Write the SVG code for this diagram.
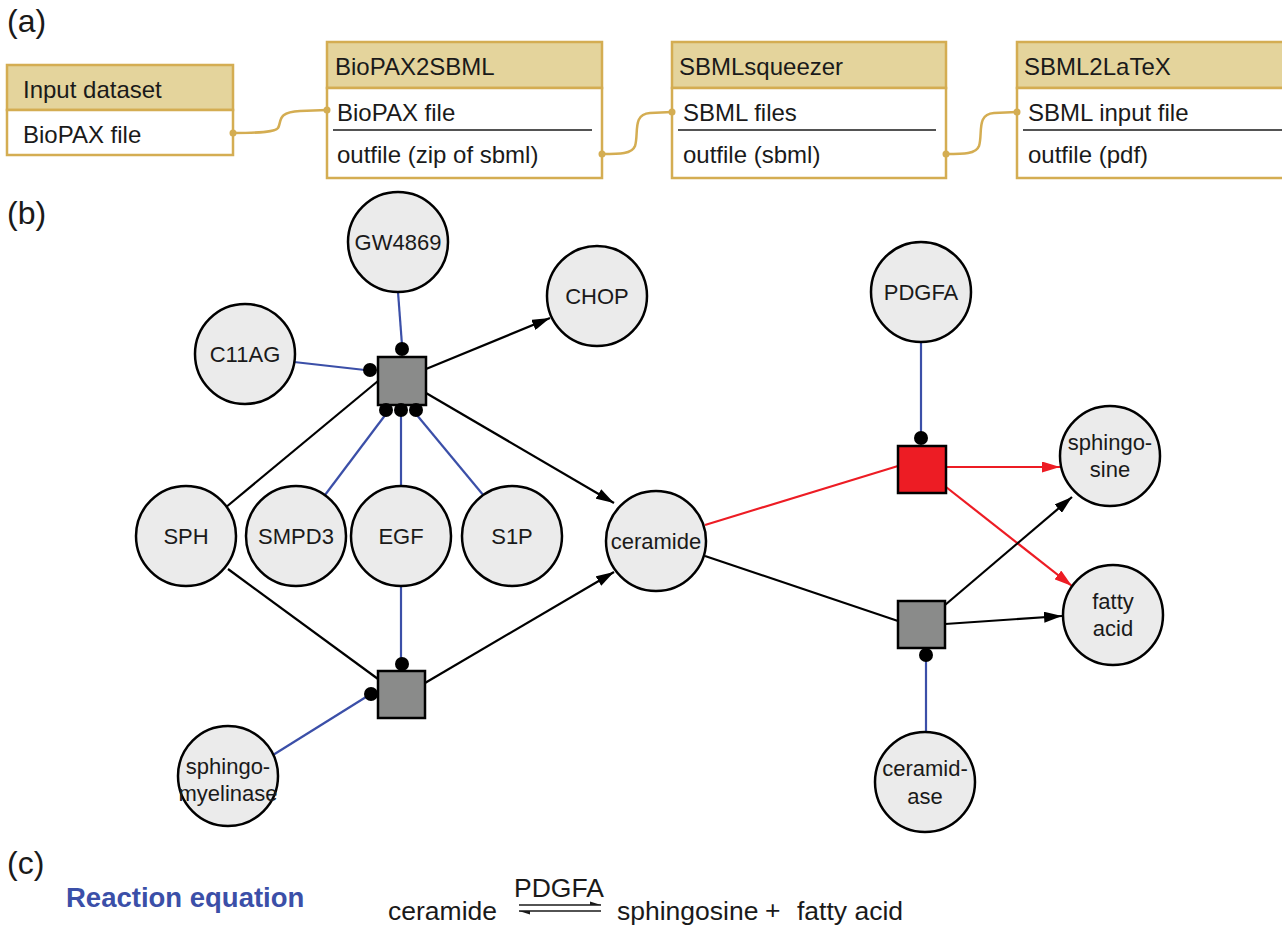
<svg xmlns="http://www.w3.org/2000/svg" width="1282" height="926" viewBox="0 0 1282 926">
<style>
text{font-family:"Liberation Sans",Arial,sans-serif;fill:#1a1a1a}
.lbl{font-size:32px}
.hdr{fill:#E4D49C;stroke:#D4AD52;stroke-width:2.5}
.body{fill:#fff;stroke:#D4AD52;stroke-width:2.5}
.bt{font-size:24px}
.sep{stroke:#1a1a1a;stroke-width:1.5}
.wire{fill:none;stroke:#D4AD52;stroke-width:2.5}
.pt{fill:#D4AD52}
.node circle{fill:#EBEBEB;stroke:#000;stroke-width:2.5}
.node text{font-size:22px;text-anchor:middle}
.sq{fill:#8A8B8A;stroke:#000;stroke-width:2.5}
.red{fill:#ED1C24;stroke:#000;stroke-width:2.5}
.blk{stroke:#000;stroke-width:2.2;fill:none}
.blu{stroke:#3B4FA8;stroke-width:2.2;fill:none}
.rd{stroke:#ED1C24;stroke-width:2.2;fill:none}
.dot{fill:#000}
</style>
<defs>
<marker id="ab" viewBox="0 0 18 11" refX="18" refY="5.5" markerWidth="18" markerHeight="11" markerUnits="userSpaceOnUse" orient="auto"><path d="M0,0 L18,5.5 L0,11 z" fill="#000"/></marker>
<marker id="ar" viewBox="0 0 18 11" refX="18" refY="5.5" markerWidth="18" markerHeight="11" markerUnits="userSpaceOnUse" orient="auto"><path d="M0,0 L18,5.5 L0,11 z" fill="#ED1C24"/></marker>
</defs>
<rect width="1282" height="926" fill="#fff"/>

<!-- panel a -->
<text class="lbl" x="7" y="32">(a)</text>
<g id="input">
<rect class="hdr" x="7" y="65" width="226" height="45"/>
<rect class="body" x="7" y="110" width="226" height="45"/>
<text class="bt" x="23" y="98">Input dataset</text>
<text class="bt" x="23" y="143">BioPAX file</text>
</g>
<g id="biopax2sbml">
<rect class="hdr" x="327" y="42" width="275" height="46"/>
<rect class="body" x="327" y="88" width="275" height="90"/>
<text class="bt" x="335" y="75">BioPAX2SBML</text>
<text class="bt" x="337" y="121">BioPAX file</text>
<line class="sep" x1="333" y1="130" x2="592" y2="130"/>
<text class="bt" x="337" y="163">outfile (zip of sbml)</text>
</g>
<g id="sbmlsqueezer">
<rect class="hdr" x="672" y="42" width="274" height="46"/>
<rect class="body" x="672" y="88" width="274" height="90"/>
<text class="bt" x="679" y="75">SBMLsqueezer</text>
<text class="bt" x="683" y="121">SBML files</text>
<line class="sep" x1="678" y1="130" x2="936" y2="130"/>
<text class="bt" x="683" y="163">outfile (sbml)</text>
</g>
<g id="sbml2latex">
<rect class="hdr" x="1017" y="42" width="275" height="46"/>
<rect class="body" x="1017" y="88" width="275" height="90"/>
<text class="bt" x="1024" y="75">SBML2LaTeX</text>
<text class="bt" x="1028" y="121">SBML input file</text>
<line class="sep" x1="1023" y1="130" x2="1282" y2="130"/>
<text class="bt" x="1028" y="163">outfile (pdf)</text>
</g>
<g id="wires">
<path class="wire" d="M233,133 C262,133 275,132 278,128 C282,122 276,112 300,111 L327,110"/>
<circle class="pt" cx="233" cy="133" r="3.5"/><circle class="pt" cx="327" cy="110" r="3.5"/>
<path class="wire" d="M602,154 C620,154 632,154 635,146 C639,134 632,114 650,113 L672,112"/>
<circle class="pt" cx="602" cy="154" r="3.5"/><circle class="pt" cx="672" cy="112" r="3.5"/>
<path class="wire" d="M946,154 C964,154 976,154 979,146 C983,134 976,114 994,113 L1017,112"/>
<circle class="pt" cx="946" cy="154" r="3.5"/><circle class="pt" cx="1017" cy="112" r="3.5"/>
</g>

<!-- panel b -->
<text class="lbl" x="7" y="224">(b)</text>
<g id="connectors">
<line class="blu" x1="398" y1="292" x2="402" y2="345"/>
<line class="blu" x1="294" y1="362" x2="365" y2="370"/>
<line class="blk" x1="426" y1="369" x2="550" y2="318" marker-end="url(#ab)"/>
<line class="blk" x1="426" y1="393" x2="614" y2="503" marker-end="url(#ab)"/>
<line class="blk" x1="225" y1="508" x2="378" y2="381"/>
<line class="blu" x1="325" y1="495" x2="386" y2="414"/>
<line class="blu" x1="401" y1="488" x2="401" y2="414"/>
<line class="blu" x1="484" y1="496" x2="416" y2="414"/>
<line class="blk" x1="228" y1="569" x2="378" y2="679"/>
<line class="blu" x1="401" y1="584" x2="401" y2="660"/>
<line class="blu" x1="273" y1="755" x2="366" y2="697"/>
<line class="blk" x1="425" y1="683" x2="614" y2="572" marker-end="url(#ab)"/>
<line class="rd" x1="705" y1="525" x2="898" y2="466"/>
<line class="rd" x1="946" y1="467" x2="1060" y2="467" marker-end="url(#ar)"/>
<line class="rd" x1="946" y1="487" x2="1072" y2="586" marker-end="url(#ar)"/>
<line class="blk" x1="705" y1="556" x2="898" y2="621"/>
<line class="blk" x1="945" y1="605" x2="1072" y2="497" marker-end="url(#ab)"/>
<line class="blk" x1="945" y1="624" x2="1062" y2="616" marker-end="url(#ab)"/>
<line class="blu" x1="921" y1="342" x2="921" y2="434"/>
<line class="blu" x1="926" y1="731" x2="926" y2="659"/>
</g>

<g id="proc1">
<rect class="sq" x="378" y="357" width="48" height="48"/>
<circle class="dot" cx="402" cy="349" r="7"/>
<circle class="dot" cx="370" cy="370" r="7"/>
<circle class="dot" cx="386" cy="410" r="7"/>
<circle class="dot" cx="401" cy="410" r="7"/>
<circle class="dot" cx="416" cy="410" r="7"/>
</g>
<g id="proc2">
<rect class="sq" x="378" y="671" width="47" height="47"/>
<circle class="dot" cx="402" cy="664" r="7"/>
<circle class="dot" cx="371" cy="694" r="7"/>
</g>
<g id="proc3">
<rect class="red" x="898" y="446" width="48" height="47"/>
<circle class="dot" cx="921" cy="438" r="7"/>
</g>
<g id="proc4">
<rect class="sq" x="898" y="601" width="47" height="47"/>
<circle class="dot" cx="926" cy="655" r="7"/>
</g>

<g id="GW4869" class="node"><circle cx="398" cy="242" r="50"/><text x="398" y="250">GW4869</text></g>
<g id="CHOP" class="node"><circle cx="597" cy="296" r="50"/><text x="597" y="304">CHOP</text></g>
<g id="C11AG" class="node"><circle cx="245" cy="354" r="50"/><text x="245" y="362">C11AG</text></g>
<g id="PDGFA" class="node"><circle cx="921" cy="292" r="50"/><text x="921" y="300">PDGFA</text></g>
<g id="SPH" class="node"><circle cx="186" cy="536" r="50"/><text x="186" y="544">SPH</text></g>
<g id="SMPD3" class="node"><circle cx="296" cy="536" r="50"/><text x="296" y="544">SMPD3</text></g>
<g id="EGF" class="node"><circle cx="401" cy="536" r="50"/><text x="401" y="544">EGF</text></g>
<g id="S1P" class="node"><circle cx="512" cy="536" r="50"/><text x="512" y="544">S1P</text></g>
<g id="ceramide" class="node"><circle cx="656" cy="541" r="50"/><text x="656" y="549">ceramide</text></g>
<g id="sphingosine" class="node"><circle cx="1110" cy="456" r="50"/><text x="1110" y="450">sphingo-</text><text x="1110" y="477">sine</text></g>
<g id="fattyacid" class="node"><circle cx="1113" cy="615" r="50"/><text x="1113" y="609">fatty</text><text x="1113" y="636">acid</text></g>
<g id="sphingomyelinase" class="node"><circle cx="228" cy="776" r="50"/><text x="228" y="774">sphingo-</text><text x="228" y="801">myelinase</text></g>
<g id="ceramidase" class="node"><circle cx="925" cy="782" r="50"/><text x="925" y="776">ceramid-</text><text x="925" y="804">ase</text></g>

<!-- panel c -->
<text class="lbl" x="7" y="874">(c)</text>
<text x="66" y="907" font-size="27.5" font-weight="bold" style="fill:#3B4FA8">Reaction equation</text>
<g id="equation" font-size="26.5">
<text x="388" y="920">ceramide</text>
<text x="514" y="897">PDGFA</text>
<text x="617" y="920">sphingosine</text>
<text x="765" y="919">+</text>
<text x="797" y="920">fatty acid</text>
<line x1="519" y1="905" x2="601" y2="905" stroke="#1a1a1a" stroke-width="1.3"/>
<path d="M601,905 L590,901.5 L590,905 z" fill="#1a1a1a"/>
<line x1="519" y1="911" x2="601" y2="911" stroke="#1a1a1a" stroke-width="1.3"/>
<path d="M519,911 L530,914.5 L530,911 z" fill="#1a1a1a"/>
</g>
</svg>
